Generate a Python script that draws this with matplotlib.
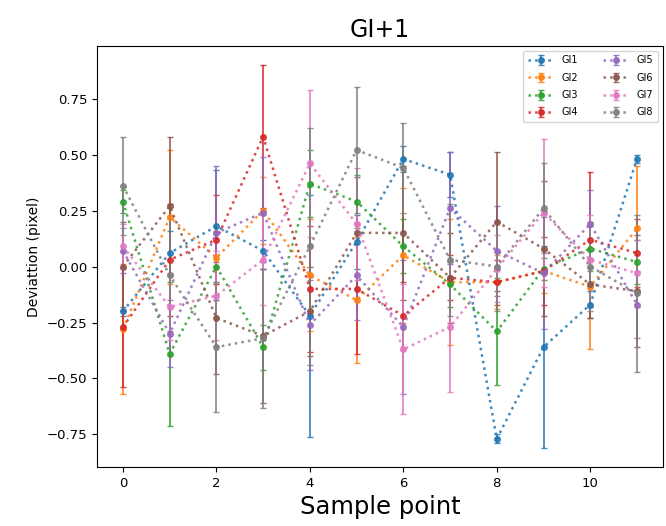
import matplotlib
matplotlib.use("Agg")
import matplotlib.pyplot as plt
import numpy as np

x = list(range(12))
series_names = ["GI1", "GI2", "GI3", "GI4", "GI5", "GI6", "GI7", "GI8"]

gi1 = [-0.20, 0.06, 0.18, 0.07, -0.22, 0.11, 0.48, 0.41, -0.77, -0.36, -0.17, 0.48]
gi2 = [-0.28, 0.22, 0.04, 0.25, -0.04, -0.15, 0.05, -0.07, -0.07, -0.02, -0.09, 0.17]
gi3 = [0.29, -0.39, 0.00, -0.36, 0.37, 0.29, 0.09, -0.08, -0.29, -0.01, 0.08, 0.02]
gi4 = [-0.27, 0.03, 0.12, 0.58, -0.10, -0.10, -0.22, -0.05, -0.07, -0.02, 0.12, 0.06]
gi5 = [0.07, -0.30, 0.15, 0.24, -0.26, -0.04, -0.27, 0.26, 0.07, -0.03, 0.19, -0.17]
gi6 = [0.00, 0.27, -0.23, -0.31, -0.20, 0.15, 0.15, -0.05, 0.20, 0.08, -0.08, -0.11]
gi7 = [0.09, -0.18, -0.13, 0.03, 0.46, 0.19, -0.37, -0.27, -0.01, 0.24, 0.03, -0.03]
gi8 = [0.36, -0.04, -0.36, -0.32, 0.09, 0.52, 0.44, 0.03, 0.00, 0.26, 0.00, -0.12]

err1 = [0.02, 0.10, 0.25, 0.05, 0.54, 0.12, 0.06, 0.10, 0.02, 0.45, 0.06, 0.02]
err2 = [0.29, 0.30, 0.12, 0.15, 0.25, 0.28, 0.30, 0.28, 0.12, 0.10, 0.28, 0.28]
err3 = [0.05, 0.32, 0.15, 0.10, 0.15, 0.12, 0.12, 0.10, 0.24, 0.05, 0.10, 0.10]
err4 = [0.27, 0.25, 0.20, 0.32, 0.28, 0.29, 0.15, 0.10, 0.10, 0.15, 0.30, 0.15]
err5 = [0.10, 0.15, 0.30, 0.25, 0.20, 0.20, 0.30, 0.25, 0.20, 0.25, 0.15, 0.15]
err6 = [0.20, 0.31, 0.25, 0.30, 0.20, 0.25, 0.30, 0.20, 0.31, 0.30, 0.15, 0.25]
err7 = [0.10, 0.15, 0.20, 0.20, 0.33, 0.25, 0.29, 0.29, 0.15, 0.33, 0.20, 0.15]
err8 = [0.22, 0.25, 0.29, 0.31, 0.53, 0.28, 0.20, 0.25, 0.20, 0.20, 0.20, 0.35]

values = [gi1, gi2, gi3, gi4, gi5, gi6, gi7, gi8]
errors = [err1, err2, err3, err4, err5, err6, err7, err8]

fig = plt.figure(figsize=(6.66, 5.26), dpi=100)
ax = fig.add_axes([0.146, 0.112, 0.849, 0.801])

for name, v, e in zip(series_names, values, errors):
    ax.errorbar(x, v, yerr=e, fmt='o:', markersize=4, capsize=2.5,
                linewidth=1.8, elinewidth=1.3, alpha=0.85,
                label=name)

ax.set_xticks([0, 2, 4, 6, 8, 10])
ax.set_yticks([-0.75, -0.5, -0.25, 0.0, 0.25, 0.5, 0.75])
ax.tick_params(labelsize=9.5)
ax.set_xlabel("Sample point", fontsize=17.5)
ax.set_ylabel("Deviattion (pixel)", fontsize=10)
ax.set_title("GI+1", fontsize=17)
ax.legend(loc="upper right", ncol=2, fontsize=7, handlelength=2.6,
          columnspacing=2.6, borderpad=0.5, labelspacing=0.75)

fig.savefig("out.png", dpi=100)
